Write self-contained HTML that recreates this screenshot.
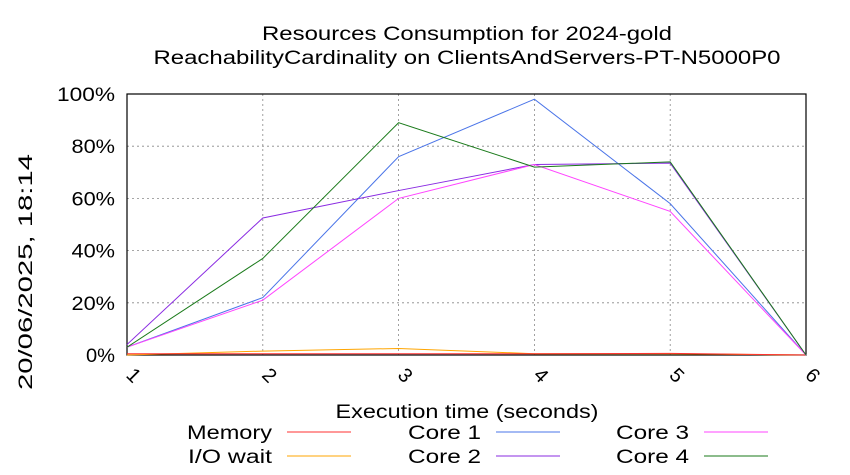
<!DOCTYPE html>
<html><head><meta charset="utf-8"><style>body{margin:0;background:#fff}svg{display:block;font-family:"Liberation Sans",sans-serif}</style></head>
<body>
<svg id="c" width="850" height="475">
<text x="467" y="40" text-anchor="middle" font-size="19" textLength="410" lengthAdjust="spacingAndGlyphs">Resources Consumption for 2024-gold</text>
<text x="467" y="64" text-anchor="middle" font-size="19" textLength="627" lengthAdjust="spacingAndGlyphs">ReachabilityCardinality on ClientsAndServers-PT-N5000P0</text>
<text transform="translate(32,272) rotate(-90)" text-anchor="middle" font-size="19" textLength="236" lengthAdjust="spacingAndGlyphs">20/06/2025, 18:14</text>
<text x="467" y="418" text-anchor="middle" font-size="19" textLength="263" lengthAdjust="spacingAndGlyphs">Execution time (seconds)</text>
<g id="grid"></g><g id="series"></g><g id="legend"></g>
</svg>
<script>
const xTicks=[1,2,3,4,5,6];
const yTicks=[0,20,40,60,80,100];
const memory=[0.5,0.5,0.5,0.5,0.6,0];
const ioWait=[0,1.5,2.5,0.5,0.5,0];
const core1=[3,22,76,98,58,0];
const core2=[4,52.5,63,73,73.5,0];
const core3=[3,21,60,73,55,0];
const core4=[3,37,89,72,74,0];
const X0=127,X1=806,Y0=355,Y1=94;
const sx=v=>X0+(v-1)*(X1-X0)/5, sy=v=>Y0-v*(Y0-Y1)/100;
const NS='http://www.w3.org/2000/svg';
function mk(t,a,p){const e=document.createElementNS(NS,t);for(const k in a)e.setAttribute(k,a[k]);p.appendChild(e);return e;}
const g=document.getElementById('grid');
yTicks.forEach(v=>{
 const l=mk('line',{x1:X0,x2:X1,y1:sy(v),y2:sy(v),stroke:'#888','stroke-dasharray':'2,3','stroke-width':0.8},g);
 
 
 const s=v+'%';
 const t=mk('text',{x:X0-12,y:sy(v)+7,'text-anchor':'end','font-size':19,textLength:s.length*14.5,lengthAdjust:'spacingAndGlyphs'},g);t.textContent=s;
 
 
});
xTicks.forEach(v=>{
 const l=mk('line',{x1:sx(v),x2:sx(v),y1:Y1,y2:Y0,stroke:'#888','stroke-dasharray':'2,3','stroke-width':0.8},g);
 
 
 const t=mk('text',{transform:`translate(${sx(v)+2},${Y0+25}) rotate(45)`,'text-anchor':'middle','font-size':20},g);t.textContent=v;
 
 
});
const fr=mk('rect',{x:X0,y:Y1,width:X1-X0,height:Y0-Y1,fill:'none',stroke:'#000','stroke-width':1.2},g);


const S=[['Memory',memory,'#ff3030'],['I/O wait',ioWait,'#ffa500'],['Core 1',core1,'#4a74e8'],['Core 2',core2,'#8a2be2'],['Core 3',core3,'#ff44ff'],['Core 4',core4,'#1a7a1a']];
const sg=document.getElementById('series'),lg=document.getElementById('legend');
const order=[1,0,2,3,4,5];
order.forEach(i=>{const [n,d,c]=S[i];
 const p=mk('polyline',{points:d.map((v,j)=>sx(xTicks[j])+','+sy(v)).join(' '),fill:'none',stroke:c,'stroke-width':1},sg);
 
 
});
const lw={'Memory':85,'I/O wait':84,'Core 1':73,'Core 2':73,'Core 3':73,'Core 4':73};
S.forEach(([n,d,c],i)=>{
 const col=Math.floor(i/2),row=i%2,ly=432+row*24,lx=[287,496,704][col];
 const t=mk('text',{x:lx-15,y:ly+7,'text-anchor':'end','font-size':19,textLength:lw[n],lengthAdjust:'spacingAndGlyphs'},lg);t.textContent=n;
 
 
 const l=mk('line',{x1:lx,x2:lx+64,y1:ly,y2:ly,stroke:c,'stroke-width':1},lg);
 
 
});
</script>
</body></html>
